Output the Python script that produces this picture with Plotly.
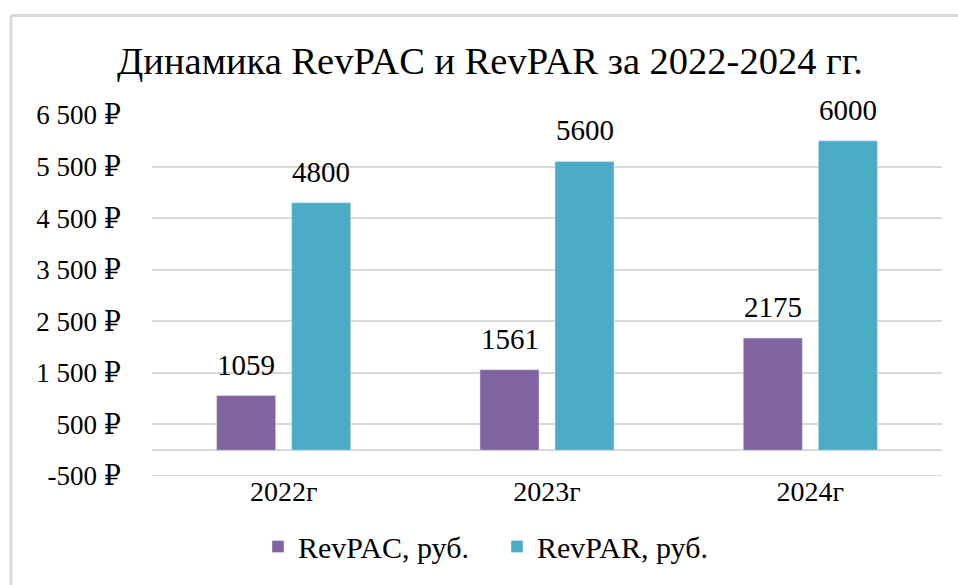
import plotly.graph_objects as go

categories = ["2022г", "2023г", "2024г"]
revpac = [1059, 1561, 2175]
revpar = [4800, 5600, 6000]
series_names = ["RevPAC, руб.", "RevPAR, руб."]
series_colors = ["#8064A2", "#4BACC6"]
tick_vals = [-500, 500, 1500, 2500, 3500, 4500, 5500, 6500]
tick_text = ["-500 ₽", "500 ₽", "1 500 ₽", "2 500 ₽", "3 500 ₽", "4 500 ₽", "5 500 ₽", "6 500 ₽"]
y_min, y_max = -500, 6500

FONT = "Times New Roman, Liberation Serif, DejaVu Serif, serif"
GRID = "#d9d9d9"
W, H = 958, 585
ML, MR, MT, MB = 152, 16, 115, 107
PW = W - ML - MR
PH = H - MT - MB
BAR_SHIFT = 37.5  # px offset of each bar centre from the category centre

def px_x(p):
    return (p - ML) / PW

def px_y(p):
    return (H - MB - p) / PH

fig = go.Figure()
for name, vals, col in zip(series_names, [revpac, revpar], series_colors):
    fig.add_trace(go.Bar(x=categories, y=vals, name=name, marker_color=col))

# data labels
for k, vals in enumerate([revpac, revpar]):
    shift = -BAR_SHIFT if k == 0 else BAR_SHIFT
    for cat, v in zip(categories, vals):
        fig.add_annotation(x=cat, y=v, text=str(v), showarrow=False,
                           xshift=shift, yshift=13, yanchor="bottom",
                           font=dict(family=FONT, size=29, color="#000000"))

fig.update_layout(
    width=W, height=H,
    margin=dict(l=ML, r=MR, t=MT, b=MB),
    paper_bgcolor="white", plot_bgcolor="white",
    barmode="group", bargap=0.43, bargroupgap=0.213,
    font=dict(family=FONT, size=26, color="#000000"),
    title=dict(text="Динамика RevPAC и RevPAR за 2022-2024 гг.",
               x=490 / W, xanchor="center", y=1 - 61 / H, yanchor="middle",
               font=dict(family=FONT, size=38.5, color="#000000")),
    legend=dict(orientation="h", x=px_x(258), xanchor="left",
                y=px_y(549), yanchor="middle",
                font=dict(family=FONT, size=30, color="#000000"),
                itemwidth=30, entrywidth=194, entrywidthmode="pixels"),
    showlegend=True,
)
fig.update_yaxes(range=[y_min, y_max], tickvals=tick_vals, ticktext=tick_text,
                 showgrid=True, gridcolor=GRID, gridwidth=2,
                 zeroline=True, zerolinecolor=GRID, zerolinewidth=2,
                 showline=False, ticklabelstandoff=30,
                 tickfont=dict(family=FONT, size=27, color="#000000"))
fig.update_xaxes(showgrid=False, showline=False, ticks="",
                 ticklabelstandoff=-4,
                 tickfont=dict(family=FONT, size=28, color="#000000"))

# bottom gridline at the axis minimum (plotly drops gridlines on the edge)
fig.add_shape(type="line", xref="paper", yref="y", x0=0, x1=1, y0=y_min, y1=y_min,
              line=dict(color=GRID, width=2), layer="below")

bx = px_x(11)
by = px_y(15)
fig.add_shape(type="line", xref="paper", yref="paper", x0=bx, x1=bx, y0=px_y(600), y1=by,
              line=dict(color=GRID, width=3))
fig.add_shape(type="line", xref="paper", yref="paper", x0=bx, x1=px_x(970), y0=by, y1=by,
              line=dict(color=GRID, width=3))

fig.write_html("out.html", config={"displayModeBar": False},
               post_script="document.body.style.margin='0';document.body.style.overflow='hidden';")
